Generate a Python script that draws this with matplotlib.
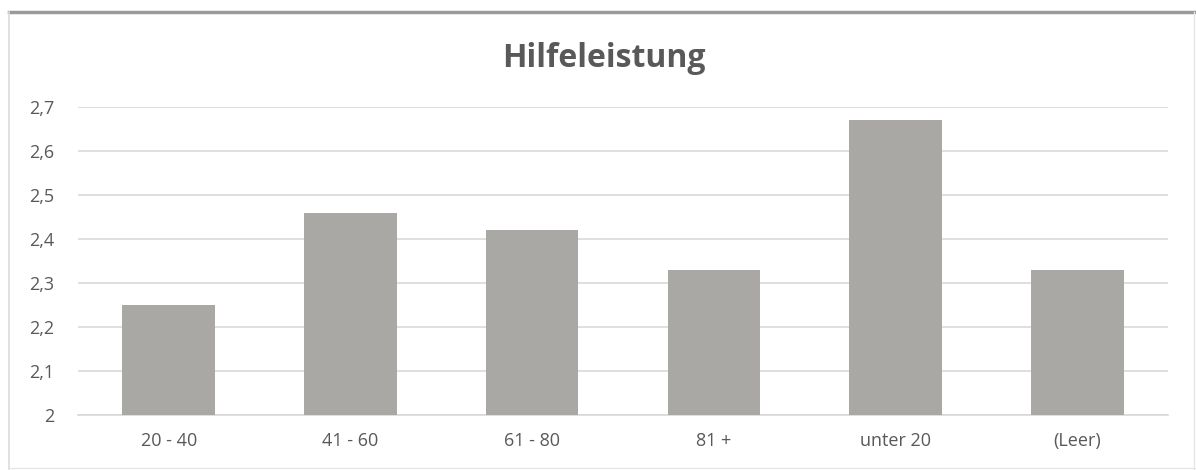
import matplotlib
matplotlib.use("Agg")
import matplotlib.pyplot as plt
from matplotlib.lines import Line2D
from matplotlib.ticker import FuncFormatter

categories = ["20 - 40", "41 - 60", "61 - 80", "81 +", "unter 20", "(Leer)"]
values = [2.25, 2.46, 2.42, 2.33, 2.67, 2.33]
yticks = [2.0, 2.1, 2.2, 2.3, 2.4, 2.5, 2.6, 2.7]
title = "Hilfeleistung"

plt.rcParams['font.family'] = ['Open Sans', 'DejaVu Sans']

fig = plt.figure(figsize=(11.96, 4.70), dpi=100)
ax = fig.add_axes([0.0652, 0.117, 0.9114, 0.655])

x = list(range(len(categories)))
ax.bar(x, values, width=0.51, color="#a9a8a5", zorder=3)
ax.set_xlim(-0.5, len(categories) - 0.5)
ax.set_ylim(2.0, 2.7)
ax.set_yticks(yticks)
ax.yaxis.set_major_formatter(FuncFormatter(lambda v, p: ("%g" % round(v, 1)).replace(".", ",")))
ax.set_xticks(x)
ax.set_xticklabels(categories)
ax.grid(axis="y", color="#d9d9d9", linewidth=1.2, zorder=0)
for s in ["top", "right", "left"]:
    ax.spines[s].set_visible(False)
ax.spines["bottom"].set_color("#d9d9d9")
ax.spines["bottom"].set_linewidth(1.2)
ax.tick_params(axis="both", length=0, colors="#595959", labelsize=13)
ax.tick_params(axis="x", pad=12)
ax.tick_params(axis="y", pad=17)

fig.text(0.505, 0.876, title, ha="center", va="center", fontsize=23, fontweight="bold", color="#595959")

# frame lines
fig.add_artist(Line2D([0.0075, 1.0], [0.975, 0.975], transform=fig.transFigure, color="#9a9a9a", linewidth=2.5))
fig.add_artist(Line2D([0.0075, 0.0075], [0.0, 0.975], transform=fig.transFigure, color="#dcdcdc", linewidth=1.2))
fig.add_artist(Line2D([0.998, 0.998], [0.0, 0.975], transform=fig.transFigure, color="#e6e6e6", linewidth=1.0))
fig.add_artist(Line2D([0.0075, 1.0], [0.004, 0.004], transform=fig.transFigure, color="#e6e6e6", linewidth=1.0))

fig.savefig("out.png", dpi=100, facecolor="white")
